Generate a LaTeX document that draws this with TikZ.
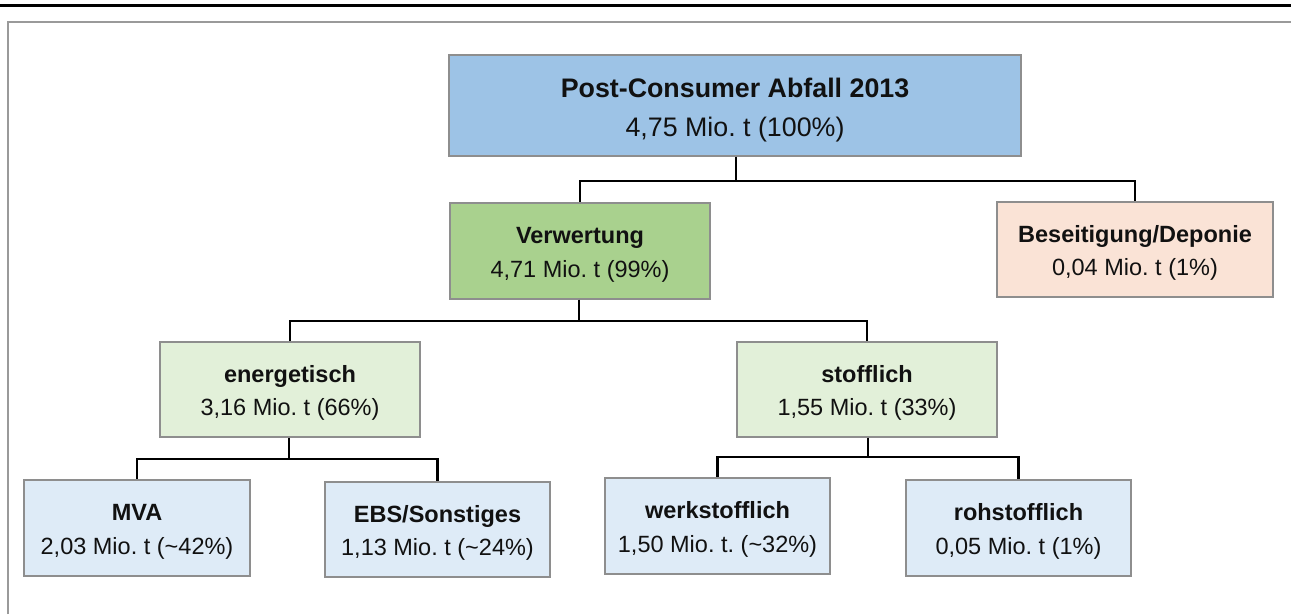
\documentclass[tikz,border=0pt]{standalone}
\usepackage{fontspec}
\setmainfont[Ligatures={TeX,NoCommon}]{Liberation Sans}
\frenchspacing

\definecolor{topblue}{HTML}{9DC3E6}
\definecolor{verwgreen}{HTML}{A9D18E}
\definecolor{besrose}{HTML}{FAE3D6}
\definecolor{palegreen}{HTML}{E2F0D9}
\definecolor{paleblue}{HTML}{DEEBF7}
\definecolor{boxline}{HTML}{8E8E8E}
\definecolor{framegray}{HTML}{9A9A9A}
\definecolor{txt}{HTML}{111111}

% strut that lowers the two text lines a little inside their box
\newcommand{\lowerstrut}[1]{\rule{0pt}{#1}}

\begin{document}
\begin{tikzpicture}[x=1pt,y=-1pt,
  box/.style={draw=boxline, line width=1.4pt, inner sep=0pt, align=center,
    text=txt, font=\fontsize{23.5}{33.5}\selectfont},
  conn/.style={draw=black, line width=2.9pt}]

  \useasboundingbox (0,0) rectangle (1291,614);

  % page rule and open frame
  \draw[line width=3.5pt] (0,5.5) -- (1291,5.5);
  \draw[framegray, line width=2pt] (8.3,614) -- (8.3,22) -- (1291,22);

  % boxes
  \node[box, fill=topblue, minimum width=572pt, minimum height=101pt,
    font=\fontsize{26.8}{39}\selectfont] (top) at (735,105.5)
    {\lowerstrut{28pt}\textbf{Post-Consumer Abfall 2013}\\4,75 Mio. t (100\%)};

  \node[box, fill=verwgreen, minimum width=260pt, minimum height=96pt] (verw) at (580,251)
    {\lowerstrut{24pt}\textbf{Verwertung}\\4,71 Mio. t (99\%)};
  \node[box, fill=besrose, minimum width=276pt, minimum height=95pt] (bes) at (1135,249.5)
    {\lowerstrut{24pt}\textbf{Beseitigung/Deponie}\\0,04 Mio. t (1\%)};

  \node[box, fill=palegreen, minimum width=260pt, minimum height=95pt] (ener) at (290,389.5)
    {\lowerstrut{24pt}\textbf{energetisch}\\3,16 Mio. t (66\%)};
  \node[box, fill=palegreen, minimum width=260pt, minimum height=95pt] (stoff) at (867,389.5)
    {\lowerstrut{24pt}\textbf{stofflich}\\1,55 Mio. t (33\%)};

  \node[box, fill=paleblue, minimum width=226pt, minimum height=96pt] (mva) at (137,528)
    {\lowerstrut{24pt}\textbf{MVA}\\2,03 Mio. t (\textasciitilde42\%)};
  \node[box, fill=paleblue, minimum width=225pt, minimum height=95pt] (ebs) at (437.5,529.5)
    {\lowerstrut{24pt}\textbf{EBS/Sonstiges}\\1,13 Mio. t (\textasciitilde24\%)};
  \node[box, fill=paleblue, minimum width=225pt, minimum height=96pt] (werk) at (717.5,526)
    {\lowerstrut{24pt}\textbf{werkstofflich}\\1,50 Mio. t. (\textasciitilde32\%)};
  \node[box, fill=paleblue, minimum width=225pt, minimum height=96pt] (roh) at (1018.5,528)
    {\lowerstrut{24pt}\textbf{rohstofflich}\\0,05 Mio. t (1\%)};

  % tree connectors
  \coordinate (b1) at ([xshift=1pt]top.south |- 0,181);
  \draw[conn] ([xshift=1pt]top.south) -- (b1) -| (verw.north);
  \draw[conn] (b1) -| (bes.north);

  \coordinate (b2) at ([xshift=-1pt]verw.south |- 0,321);
  \draw[conn] ([xshift=-1pt]verw.south) -- (b2) -| (ener.north);
  \draw[conn] (b2) -| (stoff.north);

  \coordinate (b3) at ([xshift=-1pt]ener.south |- 0,459);
  \draw[conn] ([xshift=-1pt]ener.south) -- (b3) -| (mva.north);
  \draw[conn] (b3) -| (ebs.north);

  \coordinate (b4) at ([xshift=1pt]stoff.south |- 0,457);
  \draw[conn] ([xshift=1pt]stoff.south) -- (b4) -| (werk.north);
  \draw[conn] (b4) -| (roh.north);
\end{tikzpicture}
\end{document}
